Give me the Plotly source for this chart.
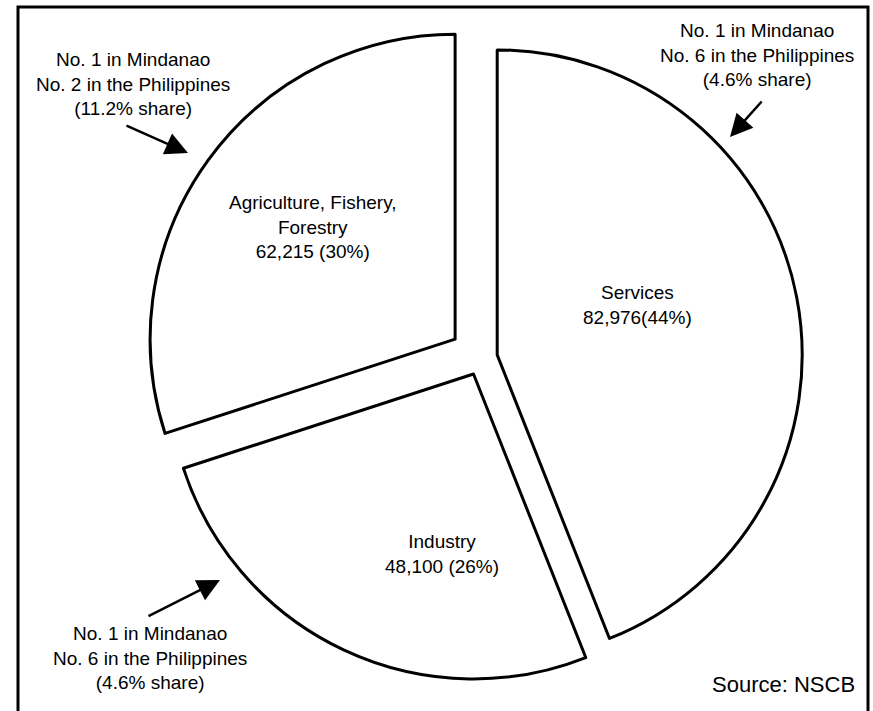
import plotly.graph_objects as go

W, H = 873, 711

# ---- data (clockwise from 12 o'clock) ----
sectors = ["Services", "Industry", "Agriculture, Fishery, Forestry"]
gva = [82976, 48100, 62215]          # value
shares = [44, 26, 30]                # % share shown on the chart
slice_labels = ["Services<br>82,976(44%)",
                "Industry<br>48,100 (26%)",
                "Agriculture, Fishery,<br>Forestry<br>62,215 (30%)"]
rank_notes = ["No. 1 in Mindanao<br>No. 6 in the Philippines<br>(4.6% share)",
              "No. 1 in Mindanao<br>No. 6 in the Philippines<br>(4.6% share)",
              "No. 1 in Mindanao<br>No. 2 in the Philippines<br>(11.2% share)"]
source_text = "Source: NSCB"

FONT = "Liberation Sans, Arial, sans-serif"


def px(x):
    return x / W


def py(y):
    return 1 - y / H


fig = go.Figure(go.Pie(
    labels=sectors,
    values=shares,
    customdata=gva,
    sort=False,
    direction="clockwise",
    rotation=0,
    pull=[0.054, 0.058, 0.105],
    marker=dict(colors=["white", "white", "white"],
                line=dict(color="black", width=3)),
    textinfo="none",
    hoverinfo="skip",
    showlegend=False,
    domain=dict(x=[0.14, 0.962], y=[0.0225, 0.9705]),
))

ann = []
# slice labels
label_pos = [(637, 305), (442, 554), (313, 227)]
for t, (x, y) in zip(slice_labels, label_pos):
    ann.append(dict(x=px(x), y=py(y), xref="paper", yref="paper", text=t,
                    showarrow=False, xanchor="center", yanchor="middle",
                    font=dict(family=FONT, size=19, color="black")))

# rank notes
note_pos = [(757, 55), (150, 658), (133, 84)]
for t, (x, y) in zip(rank_notes, note_pos):
    ann.append(dict(x=px(x), y=py(y), xref="paper", yref="paper", text=t,
                    showarrow=False, xanchor="center", yanchor="middle",
                    font=dict(family=FONT, size=19, color="black")))

# arrows (tail -> head)
arrows = [((763, 100), (730, 137)), ((147, 617), (220, 580)), ((125, 125), (188, 153))]
for (tx, ty), (hx, hy) in arrows:
    ann.append(dict(x=px(hx), y=py(hy), xref="paper", yref="paper", text="",
                    showarrow=True, ax=tx - hx, ay=ty - hy,
                    arrowhead=2, arrowsize=1.8, arrowwidth=2.5,
                    arrowcolor="black", standoff=0, startstandoff=0))

# source
ann.append(dict(x=px(857), y=py(684), xref="paper", yref="paper", text=source_text,
                showarrow=False, xanchor="right", yanchor="middle",
                font=dict(family=FONT, size=22, color="black")))

fig.update_layout(
    width=W, height=H,
    margin=dict(l=0, r=0, t=0, b=0),
    paper_bgcolor="white",
    plot_bgcolor="white",
    annotations=ann,
    shapes=[dict(type="rect", xref="paper", yref="paper",
                 x0=px(18), x1=px(868), y0=-0.05, y1=py(7),
                 line=dict(color="black", width=3), fillcolor="rgba(0,0,0,0)")],
)

fig.write_html("out.html")
